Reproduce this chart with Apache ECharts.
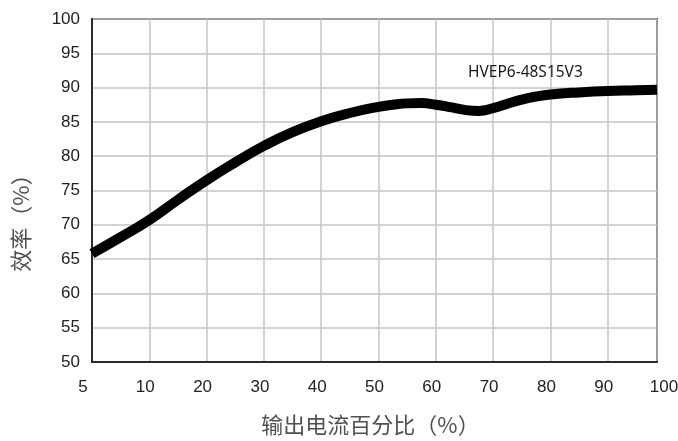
<!DOCTYPE html>
<html>
<head>
<meta charset="utf-8">
<script src="https://cdn.jsdelivr.net/npm/echarts@6/dist/echarts.min.js"></script>
<style>
  html, body { margin: 0; padding: 0; background: #fff; }
  #chart { width: 678px; height: 441px; }
</style>
</head>
<body>
<div id="chart"></div>
<script>
// Load points (% of rated output current) and measured efficiency (%)
const loadPct = [5, 7.5, 10, 15, 20, 25, 30, 35, 40, 45, 50, 52.5, 55, 57.5, 60, 62.5, 65, 67.5, 70, 72.5, 75, 77.5, 80, 85, 90, 95, 98.6];
const efficiency = [65.8, 68.2, 70.7, 73.65, 76.5, 79.1, 81.5, 83.5, 85.1, 86.3, 87.2, 87.5, 87.7, 87.75, 87.5, 87.15, 86.75, 86.6, 87.0, 87.65, 88.25, 88.7, 89.0, 89.3, 89.5, 89.6, 89.7];

// Tick labels on the load axis (first step is 5 -> 10, then steps of 10)
const xTickLabels = ['5', '10', '20', '30', '40', '50', '60', '70', '80', '90', '100'];
const yMin = 50, yMax = 100, yStep = 5;

const modelName = 'HVEP6-48S15V3';
const xName = '输出电流百分比（%）';
const yName = '效率（%）';

// The load axis is drawn with evenly spaced ticks: 5 -> 0, 10 -> 1, 20 -> 2 ... 100 -> 10
function loadToPos(load) {
  return load < 10 ? (load - 5) / 5 : load / 10;
}
const xAxisEnd = loadToPos(98.6);

const seriesData = loadPct.map((l, i) => [loadToPos(l), efficiency[i]]);

const chart = echarts.init(document.getElementById('chart'), null, { renderer: 'canvas' });

chart.setOption({
  backgroundColor: '#ffffff',
  animation: false,
  title: {
    text: modelName,
    left: 468,
    top: 65,
    padding: 0,
    textStyle: { fontFamily: 'Noto Sans', fontSize: 15.5, fontWeight: 'normal', color: '#1a1a1a' }
  },
  grid: {
    left: 92, right: 21, top: 19, bottom: 79,
    outerBoundsMode: 'none',
    containLabel: false,
    show: true, borderColor: '#2b2b2b', borderWidth: 2, backgroundColor: 'transparent'
  },
  xAxis: {
    type: 'value',
    min: 0,
    max: xAxisEnd,
    interval: 1,
    name: xName,
    nameLocation: 'middle',
    nameGap: 52,
    nameTextStyle: {
      fontFamily: 'Noto Sans CJK SC', fontSize: 22, color: '#505050',
      padding: [0, 8, 0, 0]
    },
    axisLine: { show: true, lineStyle: { color: '#2b2b2b', width: 2 } },
    axisTick: { show: false },
    axisLabel: {
      margin: 17,
      fontFamily: 'Liberation Sans', fontSize: 17, color: '#222',
      padding: [0, 8, 0, 0],
      formatter: v => {
        const i = Math.round(v);
        if (i === 0) return '{first|' + xTickLabels[i] + '}';
        if (i === xTickLabels.length - 1) return '{last|' + xTickLabels[i] + '}';
        return xTickLabels[i];
      },
      rich: {
        first: { fontFamily: 'Liberation Sans', fontSize: 17, color: '#222', padding: [0, 10, 0, 0] },
        last: { fontFamily: 'Liberation Sans', fontSize: 17, color: '#222', padding: [0, 0, 0, 22] }
      }
    },
    splitLine: { show: true, lineStyle: { color: '#c4c4c4', width: 1.5 } }
  },
  yAxis: {
    type: 'value',
    min: yMin,
    max: yMax,
    interval: yStep,
    name: yName,
    nameLocation: 'middle',
    nameGap: 60,
    nameTextStyle: {
      fontFamily: 'Noto Sans CJK SC', fontSize: 22, color: '#505050',
      padding: [0, 54, 0, 0]
    },
    axisLine: { show: true, lineStyle: { color: '#2b2b2b', width: 2 } },
    axisTick: { show: false },
    axisLabel: { margin: 12, fontFamily: 'Liberation Sans', fontSize: 17, color: '#222' },
    splitLine: { show: true, lineStyle: { color: '#c4c4c4', width: 1.5 } }
  },
  series: [{
    type: 'line',
    data: seriesData,
    smooth: 0.5,
    showSymbol: false,
    clip: false,
    lineStyle: { color: '#000', width: 10, cap: 'butt', join: 'round' }
  }]
});
</script>
</body>
</html>
